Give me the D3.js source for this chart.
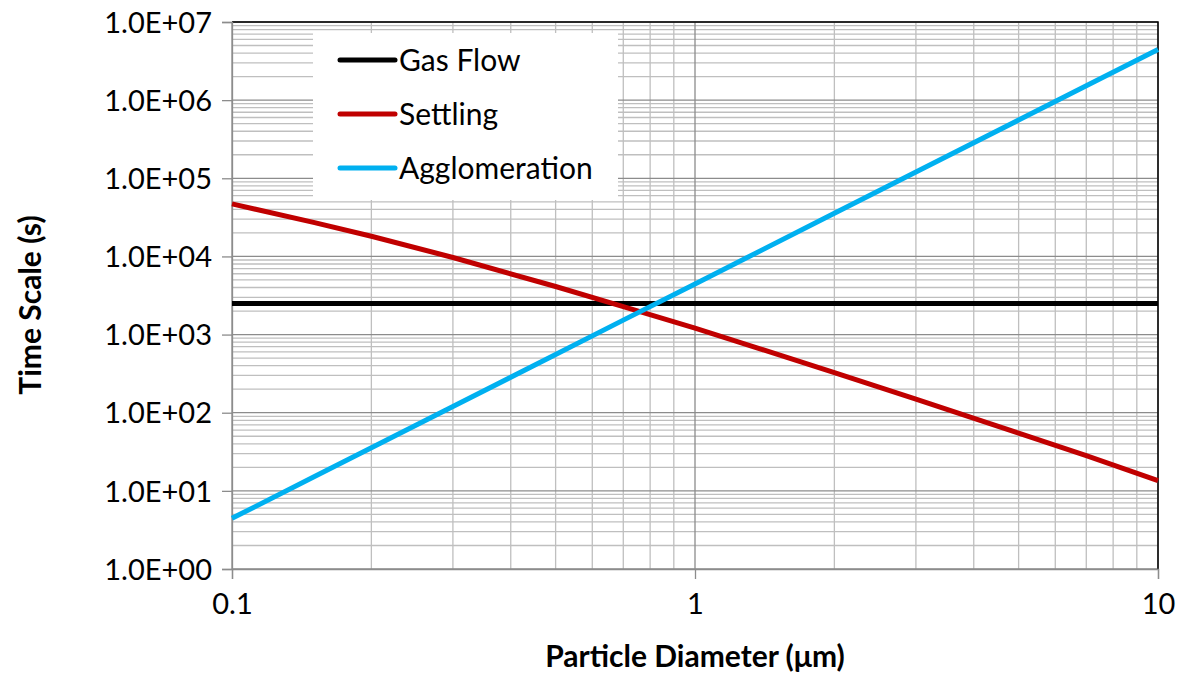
<!DOCTYPE html>
<html>
<head>
<meta charset="utf-8">
<script src="https://cdn.jsdelivr.net/npm/d3@7"></script>
<style>
  body { margin: 0; background: #fff; }
  text { font-family: Lato, sans-serif; }
</style>
</head>
<body>
<div id="grafico"></div>
<script>
// datos
const diametros = [0.1, 0.15, 0.2, 0.3, 0.5, 0.7, 1, 2, 3, 5, 7, 10];
const flujoGas = [2500, 2500, 2500, 2500, 2500, 2500, 2500, 2500, 2500, 2500, 2500, 2500];
const sedimentacion = [47000, 27300, 18100, 9700, 4120, 2280, 1210, 326, 149, 54.7, 28.2, 13.5];
const aglomeracion = [4.45, 15.0, 35.6, 120, 556, 1530, 4450, 35600, 120000, 556000, 1530000, 4450000];
const nombresSeries = ["Gas Flow", "Settling", "Agglomeration"];
const coloresSeries = ["#000000", "#c00000", "#00b0f0"];
const ticksY = [1, 10, 100, 1e3, 1e4, 1e5, 1e6, 1e7];
const ticksX = [0.1, 1, 10];

const ancho = 1178, alto = 677;
const izq = 232, der = 1158, arriba = 22, abajo = 569;

const $svg = d3.select("#grafico")
    .append("svg")
    .attr("width", ancho)
    .attr("height", alto);

const x = d3.scaleLog().domain([0.1, 10]).range([izq, der]);
const y = d3.scaleLog().domain([1, 1e7]).range([abajo, arriba]);

// rejilla menor
const menoresX = [], menoresY = [];
[0.1, 1].forEach(b => { for (let k = 2; k <= 9; k++) menoresX.push(b * k); });
ticksY.slice(0, -1).forEach(b => { for (let k = 2; k <= 9; k++) menoresY.push(b * k); });

$svg.append("g").selectAll("line").data(menoresX).join("line")
    .attr("x1", d => x(d)).attr("x2", d => x(d))
    .attr("y1", arriba).attr("y2", abajo)
    .attr("stroke", "#bfbfbf").attr("stroke-width", 1.3);
$svg.append("g").selectAll("line").data(menoresY).join("line")
    .attr("x1", izq).attr("x2", der)
    .attr("y1", d => y(d)).attr("y2", d => y(d))
    .attr("stroke", "#bfbfbf").attr("stroke-width", 1.3);

// rejilla mayor
$svg.append("g").selectAll("line").data(ticksX).join("line")
    .attr("x1", d => x(d)).attr("x2", d => x(d))
    .attr("y1", arriba).attr("y2", abajo)
    .attr("stroke", "#8c8c8c").attr("stroke-width", 1.3);
$svg.append("g").selectAll("line").data(ticksY).join("line")
    .attr("x1", izq).attr("x2", der)
    .attr("y1", d => y(d)).attr("y2", d => y(d))
    .attr("stroke", "#8c8c8c").attr("stroke-width", 1.3);

// borde del area
$svg.append("path")
    .attr("d", `M${izq},${arriba}H${der}V${abajo}`)
    .attr("fill", "none").attr("stroke", "#000").attr("stroke-width", 1.5);

// ejes
const ejeY = $svg.append("g")
    .attr("transform", `translate(${izq},0)`)
    .call(d3.axisLeft(y).tickValues(ticksY).tickSize(10).tickPadding(10)
        .tickFormat(d => "1.0E+" + String(Math.round(Math.log10(d))).padStart(2, "0")));
const ejeX = $svg.append("g")
    .attr("transform", `translate(0,${abajo})`)
    .call(d3.axisBottom(x).tickValues(ticksX).tickSize(10).tickPadding(14)
        .tickFormat(d => String(d)));
[ejeY, ejeX].forEach(eje => {
    eje.attr("font-size", null).attr("font-family", null);
    eje.select(".domain").attr("stroke", "#8c8c8c").attr("stroke-width", 1.3);
    eje.selectAll(".tick line").attr("stroke", "#8c8c8c").attr("stroke-width", 1.3);
    eje.selectAll(".tick text").attr("fill", "#000").style("font-size", "29px");
});
ejeY.selectAll(".tick text").attr("dy", "0.35em");

// series
const linea = d3.line()
    .x(d => x(d[0]))
    .y(d => y(d[1]));
const valoresSeries = [flujoGas, sedimentacion, aglomeracion];
valoresSeries.forEach((valores, i) => {
    $svg.append("path")
        .datum(diametros.map((d, j) => [d, valores[j]]))
        .attr("d", linea)
        .attr("fill", "none")
        .attr("stroke", coloresSeries[i])
        .attr("stroke-width", 5);
});

// leyenda
const leyenda = $svg.append("g").attr("transform", "translate(313,33)");
leyenda.append("rect")
    .attr("width", 305).attr("height", 167)
    .attr("fill", "#fff");
nombresSeries.forEach((nombre, i) => {
    const fila = leyenda.append("g").attr("transform", `translate(0,${27 + i * 54})`);
    fila.append("line")
        .attr("x1", 27).attr("x2", 82)
        .attr("stroke", coloresSeries[i]).attr("stroke-width", 5)
        .attr("stroke-linecap", "round");
    fila.append("text")
        .attr("x", 86).attr("dy", "0.35em")
        .style("font-size", "30px")
        .text(nombre);
});

// titulos
$svg.append("text")
    .attr("transform", "translate(41,305) rotate(-90)")
    .attr("text-anchor", "middle")
    .style("font-size", "30px").attr("font-weight", "bold")
    .text("Time Scale (s)");
$svg.append("text")
    .attr("x", 695).attr("y", 667)
    .attr("text-anchor", "middle")
    .style("font-size", "30px").attr("font-weight", "bold")
    .text("Particle Diameter (μm)");
</script>
</body>
</html>
